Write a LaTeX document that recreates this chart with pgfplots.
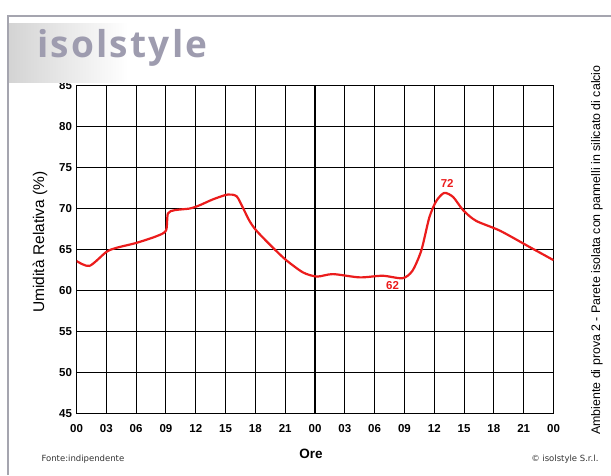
\documentclass[border=0pt]{standalone}
\usepackage{fontspec}
\setmainfont{Liberation Sans}
\newfontfamily\logofont[LetterSpace=6]{Open Sans}
\newfontfamily\smallfont{DejaVu Sans}
\usepackage{pgfplots}
\pgfplotsset{compat=1.18}
\definecolor{curvered}{RGB}{235,28,28}
\definecolor{framegray}{RGB}{165,165,175}
\definecolor{logogray}{RGB}{158,156,175}

\begin{document}
\begin{tikzpicture}[x=1pt,y=1pt]
\path[use as bounding box] (0,0) rectangle (611,475);
\begin{axis}[
  at={(77,75)}, anchor=south west,
  scale only axis, width=477pt, height=328pt,
  xmin=0, xmax=48, ymin=45, ymax=85,
  xtick={0,3,...,48},
  xticklabels={00,03,06,09,12,15,18,21,00,03,06,09,12,15,18,21,00},
  ytick={45,50,...,85},
  grid=major, grid style={black, line width=1.05pt},
  axis line style={black, line width=1.4pt},
  major tick length=0pt,
  tick label style={font=\fontsize{11.5}{13}\selectfont\bfseries},
  /pgf/number format/assume math mode=true,
  xticklabel style={yshift=-7.5pt},
  yticklabel style={xshift=-1pt},
]
% relative humidity over 48 hours
\addplot[curvered, line width=2.2pt, smooth, tension=0.45] coordinates {
  (0,63.6) (1.3,63.0) (3.0,64.7) (4.0,65.2) (6.0,65.8) (8.0,66.6)
  (9.0,67.3) (9.2,69.4) (9.9,69.8) (11.4,70.0) (12.4,70.4) (13.7,71.1)
  (15.2,71.7) (16.1,71.5) (16.7,70.2) (17.4,68.5) (18.1,67.3) (19.7,65.3)
  (21.1,63.7) (22.8,62.2) (24.2,61.7) (25.8,62.0) (28.5,61.6) (30.8,61.8)
  (32.8,61.5) (33.8,62.4) (34.7,64.9) (35.5,68.9) (36.2,70.9) (37.0,71.9)
  (37.9,71.4) (38.9,69.8) (40.2,68.5) (42.6,67.3) (45.6,65.3) (48,63.7)
};
\node[curvered, font=\bfseries\fontsize{11.5}{12}\selectfont] at (axis cs:37.3,73.1) {72};
\node[curvered, font=\bfseries\fontsize{11.5}{12}\selectfont] at (axis cs:31.8,60.6) {62};
\end{axis}
% frame and logo
\draw[framegray, line width=1.2pt] (8,0) -- (8,459) -- (611,459);
\shade[left color=black!17, right color=white] (9,392) rectangle (128,451);
\node[anchor=base west, inner sep=0pt, text=logogray, font=\logofont\bfseries\fontsize{37}{38}\selectfont] at (37,417) {isolstyle};
% labels
\node[rotate=90, font=\fontsize{15.5}{16}\selectfont] at (40,233) {Umidità Relativa (\%)};
\node[font=\bfseries\fontsize{13.5}{15}\selectfont] at (311,21) {Ore};
\node[rotate=90, font=\fontsize{12.4}{14}\selectfont] at (597,225) {Ambiente di prova 2 - Parete isolata con pannelli in silicato di calcio};
\node[anchor=west, text=black!80, font=\smallfont\fontsize{8.5}{10}\selectfont] at (38,16) {Fonte:indipendente};
\node[anchor=east, text=black!80, font=\smallfont\fontsize{8.5}{10}\selectfont] at (602,16) {© isolstyle S.r.l.};
\end{tikzpicture}
\end{document}
